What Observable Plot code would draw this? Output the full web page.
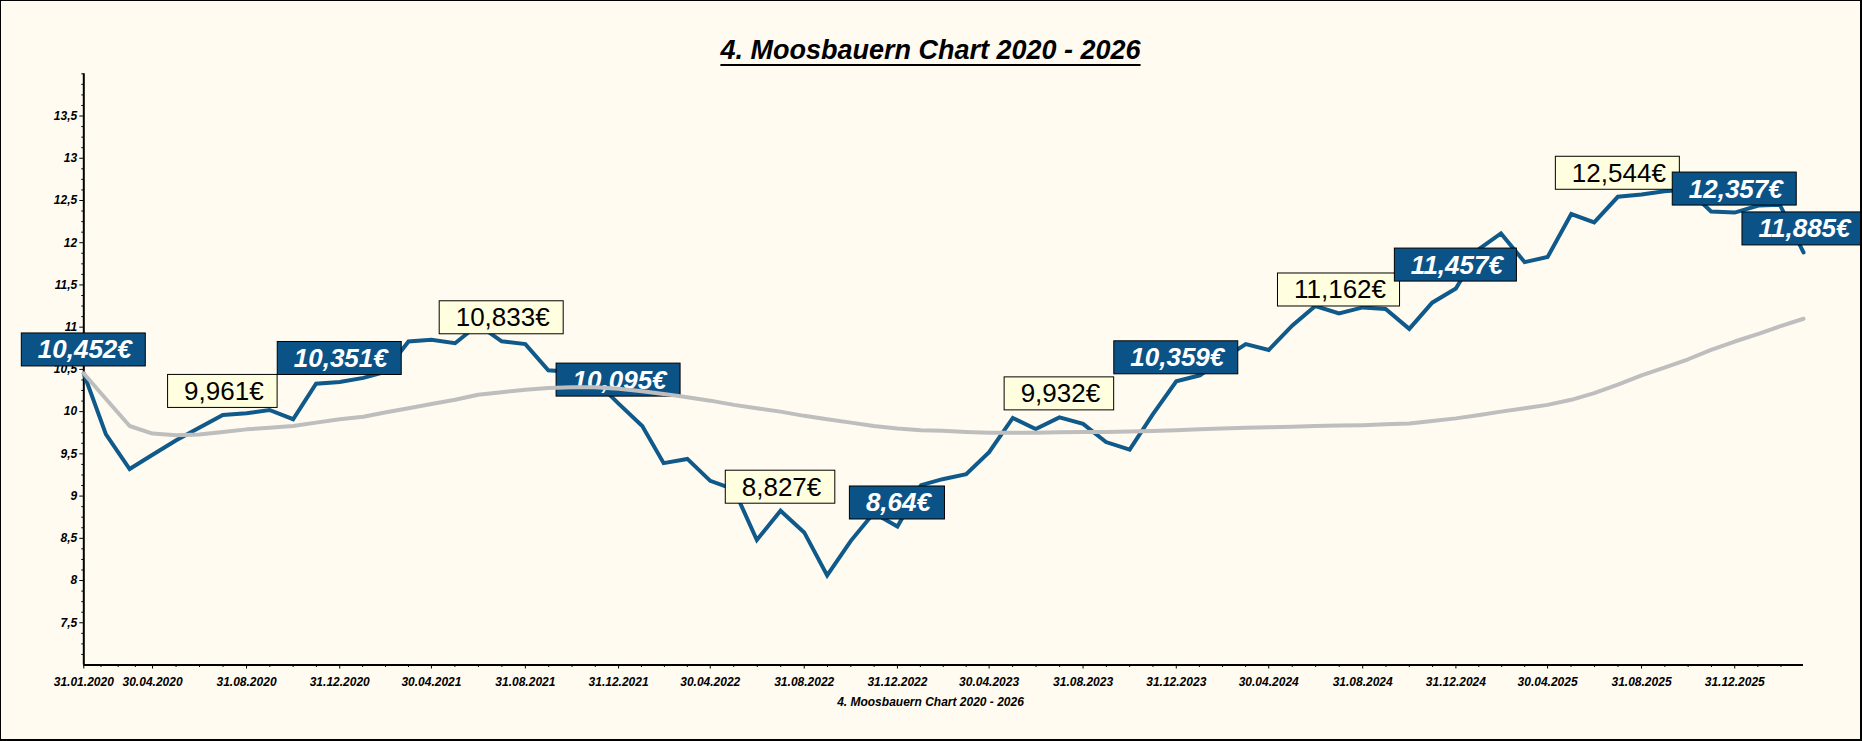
<!DOCTYPE html>
<html><head><meta charset="utf-8">
<script src="https://cdn.jsdelivr.net/npm/d3@7"></script>
<script src="https://cdn.jsdelivr.net/npm/@observablehq/plot@0.6"></script>
<style>
html,body{margin:0;padding:0;background:#FFFBF0;}
#frame{position:relative;width:1862px;height:741px;box-sizing:border-box;border:1px solid #000;border-right-width:2px;border-bottom-width:2px;background:#FFFBF0;overflow:hidden;font-family:Arial,"Liberation Sans",sans-serif;color:#000;}
#title{position:absolute;left:0;right:0;top:36px;text-align:center;font-size:27px;line-height:27px;font-weight:bold;font-style:italic;text-decoration:underline;text-decoration-thickness:2px;text-underline-offset:5px;}
#chart{position:absolute;left:0;top:67px;}
#caption{position:absolute;left:0;right:0;top:693px;text-align:center;font-size:12px;line-height:16px;font-weight:bold;font-style:italic;}
</style></head>
<body>
<div id="frame">
  <div id="title">4. Moosbauern Chart 2020 - 2026</div>
  <div id="chart"></div>
  <div id="caption">4. Moosbauern Chart 2020 - 2026</div>
</div>
<script>
// ---- data (monthly, month-end from 31.01.2020 to 31.03.2026) ----
const startMonth = "2020-01";
const priceValues = [
  10.452, 9.73, 9.32, 9.49, 9.66, 9.81, 9.961, 9.98, 10.02, 9.91, 10.33, 10.351,
  10.40, 10.47, 10.83, 10.85, 10.81, 11.03, 10.833, 10.80, 10.49, 10.47, 10.37, 10.095,
  9.83, 9.39, 9.44, 9.18, 9.08, 8.48, 8.827, 8.57, 8.06, 8.47, 8.80, 8.64,
  9.13, 9.20, 9.26, 9.52, 9.925, 9.795, 9.932, 9.855, 9.64, 9.55, 9.965, 10.359,
  10.43, 10.62, 10.80, 10.73, 11.02, 11.25, 11.162, 11.234, 11.215, 10.98, 11.29, 11.457,
  11.93, 12.11, 11.77, 11.83, 12.34, 12.24, 12.544, 12.57, 12.61, 12.63, 12.37, 12.357,
  12.44, 12.45, 11.885
];
const averageValues = [
  10.452, 10.15, 9.83, 9.74, 9.72, 9.73, 9.76, 9.79, 9.81, 9.83, 9.87, 9.91,
  9.94, 9.99, 10.04, 10.09, 10.14, 10.20, 10.23, 10.26, 10.28, 10.29, 10.29, 10.27,
  10.24, 10.21, 10.17, 10.13, 10.08, 10.04, 10.00, 9.95, 9.91, 9.87, 9.83, 9.80,
  9.78, 9.775, 9.76, 9.75, 9.75, 9.75, 9.755, 9.76, 9.76, 9.765, 9.77, 9.78,
  9.79, 9.80, 9.81, 9.815, 9.82, 9.83, 9.835, 9.84, 9.85, 9.86, 9.89, 9.92,
  9.96, 10.00, 10.04, 10.08, 10.14, 10.22, 10.32, 10.43, 10.52, 10.62, 10.73, 10.83,
  10.92, 11.01, 11.10
];
const blueLabelIdx = [0, 11, 23, 35, 47, 59, 71, 74];
const creamLabelIdx = [6, 18, 30, 42, 54, 66];
const xTickLabels = ["31.01.2020","30.04.2020","31.08.2020","31.12.2020","30.04.2021","31.08.2021",
  "31.12.2021","30.04.2022","31.08.2022","31.12.2022","30.04.2023","31.08.2023","31.12.2023",
  "30.04.2024","31.08.2024","31.12.2024","30.04.2025","31.08.2025","31.12.2025"];
const yTicks = [7.5, 8, 8.5, 9, 9.5, 10, 10.5, 11, 11.5, 12, 12.5, 13, 13.5];

// ---- derived ----
const parseDE = d3.utcParse("%d.%m.%Y");
const fmtDE = d3.utcFormat("%d.%m.%Y");
const m0 = d3.utcParse("%Y-%m")(startMonth);
const dates = priceValues.map((_, i) => d3.utcDay.offset(d3.utcMonth.offset(m0, i + 1), -1));
const price = priceValues.map((v, i) => ({date: dates[i], value: v}));
const avg = averageValues.map((v, i) => ({date: dates[i], value: v}));
const xMajor = xTickLabels.map(parseDE);
const xStart = dates[0], xEnd = dates[dates.length - 1];
const xMinor = [];
const majorsExt = [...xMajor, d3.utcMonth.offset(xMajor[xMajor.length - 1], 4)];
for (let k = 0; k < majorsExt.length - 1; k++) {
  const a = +majorsExt[k], b = +majorsExt[k + 1];
  for (let j = 1; j < 4; j++) {
    const t = new Date(a + (b - a) * j / 4);
    if (t <= xEnd) xMinor.push(t);
  }
}
const yMinor = d3.range(7.125, 14.001, 0.125).filter(v => !yTicks.includes(v) && v !== 7);
const deNum = v => String(v).replace(".", ",");

const labels = [
  ...blueLabelIdx.map(i => ({i, kind: "blue"})),
  ...creamLabelIdx.map(i => ({i, kind: "cream"}))
].sort((a, b) => a.i - b.i);

const ctx = document.createElement("canvas").getContext("2d");
function textWidth(s, font) { ctx.font = font; return ctx.measureText(s).width; }

const LINE_BLUE = "#0F5A8B";
const BOX_BLUE = "#0B5386";
const FONT = "Arial, 'Liberation Sans', sans-serif";

function labelMark(index, scales) {
  const g = d3.create("svg:g");
  for (const l of labels) {
    const px = scales.x(dates[l.i]);
    const py = scales.y(priceValues[l.i]);
    const txt = deNum(priceValues[l.i]) + "€";
    const blue = l.kind === "blue";
    const font = (blue ? "italic bold " : "") + "26px Arial, 'Liberation Sans'";
    const w = textWidth(txt, font) + 30, h = 33;
    const bottom = py - 7;
    g.append("rect")
      .attr("x", px - w / 2).attr("y", bottom - h)
      .attr("width", w).attr("height", h)
      .attr("fill", blue ? BOX_BLUE : "#FFFFE0")
      .attr("stroke", "#000").attr("stroke-width", 1);
    g.append("text")
      .attr("x", px + 1.5).attr("y", bottom - 7.5)
      .attr("text-anchor", "middle")
      .attr("font-family", FONT)
      .attr("font-size", 26)
      .attr("font-weight", blue ? "bold" : "normal")
      .attr("font-style", blue ? "italic" : "normal")
      .attr("fill", blue ? "#fff" : "#000")
      .text(txt);
  }
  return g.node();
}

const tickText = {fontSize: 12, fontWeight: "bold", fontStyle: "italic", fontFamily: FONT, fill: "#000"};

const chart = Plot.plot({
  width: 1859,
  height: 626,
  marginLeft: 82.3,
  marginRight: 57,
  marginTop: 5.3,
  marginBottom: 29.5,
  style: {background: "transparent", color: "#000", fontFamily: FONT, overflow: "visible"},
  x: {type: "utc", domain: [xStart, xEnd], label: null},
  y: {domain: [7, 14], label: null},
  marks: [
    Plot.axisY({ticks: yMinor, tickSize: 2, tickFormat: () => "", label: null, stroke: "#000"}),
    Plot.axisY({ticks: yTicks, tickSize: 4, tickPadding: 2.6, tickFormat: deNum, label: null, stroke: "#000", ...tickText}),
    Plot.axisX({ticks: xMinor, tickSize: 2.5, tickFormat: () => "", label: null, stroke: "#000"}),
    Plot.axisX({ticks: xMajor, tickSize: 4, tickPadding: 8, tickFormat: fmtDE, label: null, stroke: "#000", ...tickText}),
    Plot.ruleX([xStart], {y1: 7, y2: 14, stroke: "#000", strokeWidth: 2}),
    Plot.ruleY([7], {stroke: "#000", strokeWidth: 2.2}),
    Plot.line(price, {x: "date", y: "value", stroke: LINE_BLUE, strokeWidth: 4, strokeLinejoin: "miter", strokeMiterlimit: 3}),
    labelMark,
    Plot.line(avg, {x: "date", y: "value", stroke: "#BEBEBE", strokeWidth: 4})
  ]
});
document.getElementById("chart").appendChild(chart);
</script>
</body></html>
